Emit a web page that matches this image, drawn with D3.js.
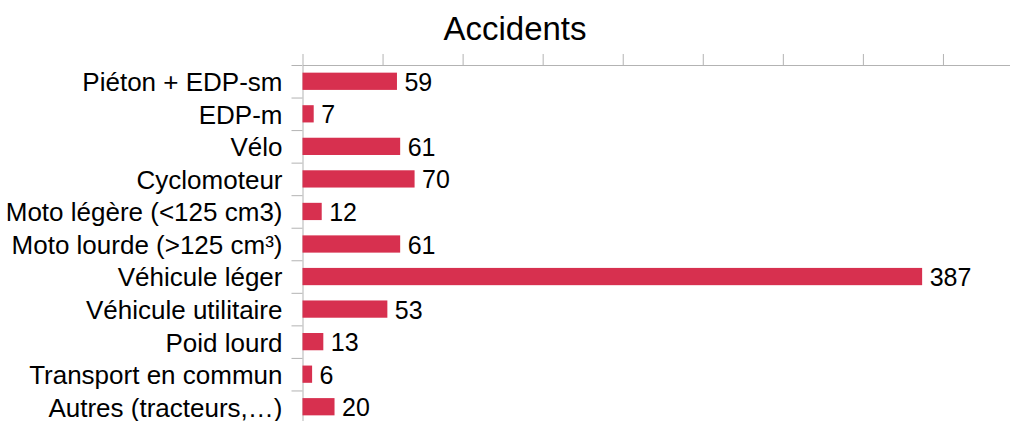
<!DOCTYPE html>
<html lang="fr">
<head>
    <meta charset="UTF-8">
    <title>Accidents</title>
    <script src="https://d3js.org/d3.v7.min.js"></script>
    <style>
        body { margin: 0; background: #fff; }
        svg text { font-family: "Liberation Sans", Arial, sans-serif; fill: #000; }
        .axis path, .axis line { stroke: #b3b3b3; stroke-width: 1; }
    </style>
</head>
<body>
    <svg id="chart" width="1010" height="421"></svg>
    <script>
        const categories = [
            "Piéton + EDP-sm", "EDP-m", "Vélo", "Cyclomoteur",
            "Moto légère (<125 cm3)", "Moto lourde (>125 cm³)", "Véhicule léger",
            "Véhicule utilitaire", "Poid lourd", "Transport en commun", "Autres (tracteurs,…)"
        ];
        const values = [59, 7, 61, 70, 12, 61, 387, 53, 13, 6, 20];
        const xTicks = [0, 50, 100, 150, 200, 250, 300, 350, 400, 450];

        const svg = d3.select("#chart");
        const plotTop = 65, plotBottom = 423, plotLeft = 302.5, plotRight = 1023;

        const x = d3.scaleLinear().domain([0, 450]).range([plotLeft, plotRight]);
        const y = d3.scaleBand().domain(categories).range([plotTop, plotBottom]).paddingInner(0.47).paddingOuter(0.235);
        const yEdges = d3.scaleLinear().domain([0, categories.length]).range([plotTop, plotBottom]);

        // title
        svg.append("text")
            .attr("x", 515).attr("y", 40)
            .attr("text-anchor", "middle")
            .style("font-size", "33px")
            .text("Accidents");

        // top axis (ticks only)
        svg.append("g")
            .attr("class", "axis")
            .attr("transform", `translate(0,${plotTop})`)
            .call(d3.axisTop(x).tickValues(xTicks).tickSize(11).tickSizeOuter(0).tickFormat(""));

        // left axis: ticks between categories
        svg.append("g")
            .attr("class", "axis")
            .attr("transform", `translate(${plotLeft},0)`)
            .call(d3.axisLeft(yEdges).tickValues(d3.range(0, categories.length + 1)).tickSize(11).tickSizeOuter(0).tickFormat(""));

        // category labels
        svg.append("g").selectAll("text")
            .data(categories)
            .join("text")
            .attr("x", plotLeft - 20)
            .attr("y", d => y(d) + y.bandwidth() / 2)
            .attr("dy", "0.38em")
            .attr("text-anchor", "end")
            .style("font-size", "26px")
            .text(d => d);

        // bars
        svg.append("g").selectAll("rect")
            .data(values)
            .join("rect")
            .attr("x", x(0))
            .attr("y", (d, i) => y(categories[i]))
            .attr("width", d => x(d) - x(0))
            .attr("height", y.bandwidth())
            .attr("fill", "#d7304f");

        // value labels
        svg.append("g").selectAll("text")
            .data(values)
            .join("text")
            .attr("x", d => x(d) + 7.5)
            .attr("y", (d, i) => y(categories[i]) + y.bandwidth() / 2)
            .attr("dy", "0.38em")
            .style("font-size", "25px")
            .text(d => d);
    </script>
</body>
</html>
